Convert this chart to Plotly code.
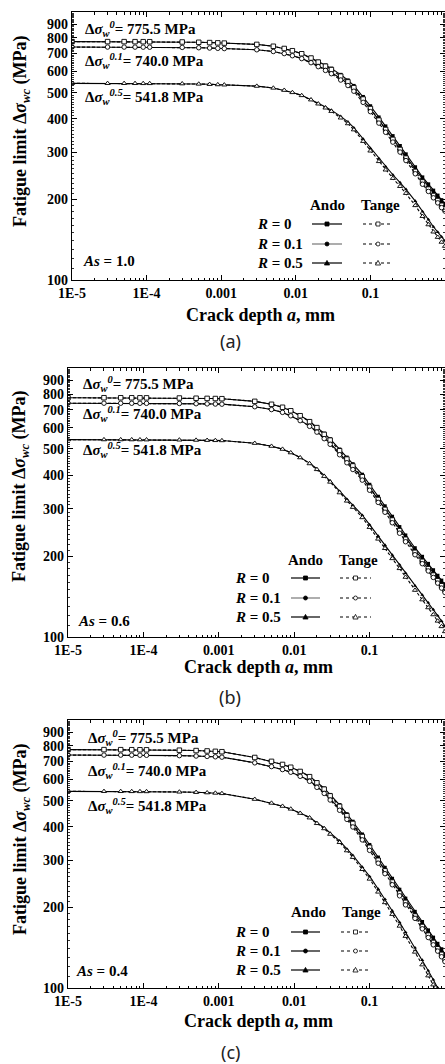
import plotly.graph_objects as go

W, H = 445, 1064
SERIF = "Liberation Serif"

# ---------------- data ----------------
A_MM = [1e-5, 3e-5, 5e-5, 7e-5, 9e-5, 1.1e-4, 3e-4, 5e-4, 7e-4, 9e-4, 1.1e-3,
        3e-3, 5e-3, 7e-3, 9e-3, 0.012, 0.016, 0.02, 0.025, 0.03, 0.04, 0.05,
        0.06, 0.08, 0.1, 0.13, 0.16, 0.2, 0.25, 0.3, 0.4, 0.5, 0.6, 0.7, 0.8,
        0.9, 1.0]

R_LABELS = ["0", "0.1", "0.5"]
DSW_VALUES = ["775.5", "740.0", "541.8"]
AS_VALUES = ["1.0", "0.6", "0.4"]
PANEL_TAGS = ["(a)", "(b)", "(c)"]

X_TICK_VALS = [1e-5, 1e-4, 1e-3, 1e-2, 1e-1, 1]
X_TICK_TEXT = ["1E-5", "1E-4", "0.001", "0.01", "0.1", "1"]
Y_TICK_VALS = [100, 200, 300, 400, 500, 600, 700, 800, 900]
Y_TICK_TEXT = ["100", "200", "300", "400", "500", "600", "700", "800", "900"]

# Panel (a)  As = 1.0
a_r0_ando = [775.5, 775.4, 775.2, 775.0, 774.8, 774.6, 773.0, 771.0, 769.0, 767.0, 765.5, 757.0, 745.0, 731.0, 717.0, 700.0, 676.0, 654.0, 633.0, 616.0, 584.0, 557.0, 531.0, 483.0, 446.0, 405.0, 375.0, 345.0, 317.0, 295.0, 264.0, 242.0, 228.0, 216.0, 207.0, 199.0, 193.0]
a_r0_tange = [775.5, 775.4, 775.2, 775.0, 774.8, 774.6, 773.0, 771.0, 769.0, 767.0, 765.5, 757.0, 745.0, 731.0, 717.0, 698.6, 673.3, 650.1, 627.9, 609.8, 576.4, 548.6, 522.0, 473.3, 436.2, 394.9, 364.5, 334.7, 306.9, 285.0, 254.2, 232.3, 218.4, 206.7, 197.9, 190.0, 184.3]
a_r01_ando = [740.0, 739.9, 739.7, 739.5, 739.3, 739.1, 737.6, 735.7, 733.8, 731.9, 730.4, 723.0, 712.2, 699.6, 686.9, 671.3, 649.6, 629.1, 610.2, 594.4, 564.7, 539.7, 515.1, 469.5, 434.4, 394.9, 366.0, 337.1, 310.0, 288.8, 258.7, 237.2, 223.4, 211.7, 202.9, 195.0, 189.1]
a_r01_tange = [740.0, 739.9, 739.7, 739.5, 739.3, 739.1, 737.6, 735.7, 733.8, 731.9, 730.4, 723.0, 712.2, 699.6, 686.9, 670.0, 647.0, 625.3, 605.3, 588.5, 557.4, 531.6, 506.3, 460.1, 424.8, 385.0, 355.8, 327.0, 300.1, 279.0, 249.1, 227.7, 214.0, 202.6, 194.0, 186.2, 180.6]
a_r05_ando = [541.8, 541.7, 541.6, 541.5, 541.3, 541.2, 540.1, 538.7, 537.3, 535.9, 534.8, 528.9, 520.5, 510.7, 500.9, 489.1, 472.3, 456.9, 442.2, 430.4, 408.0, 389.1, 370.0, 336.0, 310.0, 284.0, 265.0, 247.0, 231.0, 218.0, 197.0, 180.0, 168.0, 158.0, 151.0, 145.0, 140.0]
a_r05_tange = [541.8, 541.7, 541.6, 541.5, 541.3, 541.2, 540.1, 538.7, 537.3, 535.9, 534.8, 528.9, 520.5, 510.7, 500.9, 488.1, 470.4, 454.2, 438.7, 426.1, 402.7, 383.3, 363.7, 329.3, 303.2, 276.9, 257.6, 239.6, 223.6, 210.6, 189.7, 172.8, 160.9, 151.2, 144.4, 138.5, 133.7]

# Panel (b)  As = 0.6
b_r0_ando = [775.5, 775.4, 775.2, 775.0, 774.8, 774.5, 773.5, 772.0, 771.0, 770.0, 769.0, 751.7, 733.0, 714.6, 693.4, 665.9, 634.1, 604.1, 571.1, 544.8, 498.8, 465.6, 439.9, 402.1, 368.8, 332.9, 306.7, 280.6, 256.8, 239.0, 214.3, 199.1, 187.4, 177.5, 169.3, 162.4, 156.3]
b_r0_tange = [775.5, 775.4, 775.2, 775.0, 774.8, 774.5, 773.5, 772.0, 771.0, 770.0, 769.0, 751.7, 733.0, 714.6, 693.4, 664.6, 631.6, 600.5, 566.5, 539.4, 492.3, 458.6, 432.4, 394.1, 360.7, 324.6, 298.1, 272.2, 248.6, 230.9, 206.4, 191.1, 179.5, 169.9, 161.9, 155.1, 149.3]
b_r01_ando = [740.0, 739.9, 739.7, 739.5, 739.3, 739.0, 738.1, 736.6, 735.7, 734.7, 733.8, 717.9, 700.7, 683.9, 664.3, 638.6, 609.4, 581.1, 550.5, 525.7, 482.3, 451.2, 426.7, 390.8, 359.2, 324.6, 299.3, 274.1, 251.1, 234.0, 210.0, 195.1, 183.7, 174.0, 165.9, 159.2, 153.2]
b_r01_tange = [740.0, 739.9, 739.7, 739.5, 739.3, 739.0, 738.1, 736.6, 735.7, 734.7, 733.8, 717.9, 700.7, 683.9, 664.3, 637.3, 607.0, 577.6, 546.1, 520.4, 476.0, 444.4, 419.4, 383.0, 351.3, 316.5, 290.9, 265.9, 243.1, 226.0, 202.2, 187.3, 176.0, 166.5, 158.6, 152.0, 146.3]
b_r05_ando = [541.8, 541.7, 541.6, 541.5, 541.3, 541.1, 540.4, 539.4, 538.7, 538.0, 537.3, 525.2, 512.1, 499.3, 484.4, 465.2, 443.0, 422.1, 399.0, 380.6, 348.5, 325.3, 308.9, 283.7, 261.5, 237.3, 219.6, 201.9, 185.7, 172.8, 155.0, 143.3, 134.2, 126.5, 120.0, 114.6, 109.7]
b_r05_tange = [541.8, 541.7, 541.6, 541.5, 541.3, 541.1, 540.4, 539.4, 538.7, 538.0, 537.3, 525.2, 512.1, 499.3, 484.4, 464.3, 441.2, 419.6, 395.8, 376.8, 344.0, 320.4, 303.6, 278.0, 255.7, 231.4, 213.5, 195.8, 179.8, 166.9, 149.3, 137.6, 128.6, 121.1, 114.7, 109.4, 104.8]

# Panel (c)  As = 0.4
c_r0_ando = [775.5, 775.3, 775.0, 774.7, 774.4, 774.0, 771.5, 769.0, 766.5, 764.0, 761.5, 724.7, 701.0, 682.6, 666.4, 644.0, 617.1, 586.4, 556.5, 526.4, 482.5, 446.1, 418.3, 374.8, 342.5, 307.4, 281.5, 256.2, 233.2, 216.0, 192.8, 176.7, 164.4, 154.5, 146.5, 139.8, 134.0]
c_r0_tange = [775.5, 775.3, 775.0, 774.7, 774.4, 774.0, 771.5, 769.0, 766.5, 764.0, 761.5, 724.7, 701.0, 682.6, 666.4, 642.7, 614.6, 582.9, 552.0, 521.1, 476.2, 439.4, 411.2, 367.3, 335.0, 299.7, 273.6, 248.5, 225.7, 208.7, 185.7, 169.6, 157.5, 147.9, 140.1, 133.5, 128.0]
c_r01_ando = [740.0, 739.8, 739.5, 739.2, 738.9, 738.6, 736.2, 733.8, 731.4, 729.0, 726.6, 692.1, 670.2, 653.2, 638.4, 617.6, 593.0, 564.1, 536.5, 508.0, 466.6, 432.3, 405.8, 364.3, 333.6, 299.7, 274.7, 250.3, 228.1, 211.5, 188.9, 173.2, 161.1, 151.4, 143.6, 137.0, 131.3]
c_r01_tange = [740.0, 739.8, 739.5, 739.2, 738.9, 738.6, 736.2, 733.8, 731.4, 729.0, 726.6, 692.1, 670.2, 653.2, 638.4, 616.4, 590.6, 560.7, 532.2, 502.9, 460.5, 425.8, 398.9, 357.0, 326.3, 292.2, 267.0, 242.8, 220.8, 204.3, 181.9, 166.3, 154.3, 144.9, 137.3, 130.8, 125.4]
c_r05_ando = [541.8, 541.7, 541.5, 541.2, 541.0, 540.8, 539.0, 537.3, 535.5, 533.8, 532.0, 506.3, 489.8, 476.9, 465.6, 449.9, 433.3, 413.8, 396.6, 378.8, 354.0, 330.4, 312.7, 282.8, 260.8, 234.1, 214.4, 194.2, 175.9, 161.5, 141.4, 127.2, 116.0, 107.4, 100.3, 94.2, 88.9]
c_r05_tange = [541.8, 541.7, 541.5, 541.2, 541.0, 540.8, 539.0, 537.3, 535.5, 533.8, 532.0, 506.3, 489.8, 476.9, 465.6, 449.0, 431.6, 411.3, 393.4, 375.0, 349.4, 325.4, 307.4, 277.1, 255.1, 228.2, 208.4, 188.4, 170.3, 156.0, 136.2, 122.1, 111.1, 102.8, 95.9, 90.0, 84.9]

ANDO = [[a_r0_ando, a_r01_ando, a_r05_ando],
        [b_r0_ando, b_r01_ando, b_r05_ando],
        [c_r0_ando, c_r01_ando, c_r05_ando]]
TANGE = [[a_r0_tange, a_r01_tange, a_r05_tange],
         [b_r0_tange, b_r01_tange, b_r05_tange],
         [c_r0_tange, c_r01_tange, c_r05_tange]]

# ---------------- geometry (pixels) ----------------
GEOM = [
    dict(left=72, top=12, bottom=280, dsw_x=83, dsw_y=[29, 61, 97], as_x=81, as_y=261,
         head_y=205, rows_y=[224, 244, 263], lab_x=255, ando=(312, 342), tange=(363, 393),
         head_ando=327, head_tange=380, xt_x=260, xt_y=315, yt_y=132, tag_y=341),
    dict(left=68, top=368, bottom=637, dsw_x=81, dsw_y=[384, 414, 450], as_x=76, as_y=621,
         head_y=560, rows_y=[578, 598, 617], lab_x=233, ando=(291, 320), tange=(340, 371),
         head_ando=305, head_tange=358, xt_x=258, xt_y=667, yt_y=487, tag_y=697),
    dict(left=68, top=720, bottom=988, dsw_x=86, dsw_y=[738, 771, 806], as_x=74, as_y=971,
         head_y=912, rows_y=[932, 951, 970], lab_x=233, ando=(291, 320), tange=(341, 370),
         head_ando=308, head_tange=361, xt_x=258, xt_y=1021, yt_y=840, tag_y=1052),
]

SYMBOLS = ["square", "circle", "triangle-up"]


def fx(p):
    return p / W


def fy(p):
    return 1 - p / H


fig = go.Figure()

x_minor = [k * 10.0 ** e for e in range(-5, 0) for k in range(2, 10)]
y_minor = [v for v in range(110, 1000, 10) if v % 100 != 0]

annotations = []
shapes = []

for i, g in enumerate(GEOM):
    s = "" if i == 0 else str(i + 1)
    xa, ya = "x" + s, "y" + s
    axis_common = dict(
        ticks="inside", tickcolor="black", tickwidth=1, ticklen=5,
        showline=True, linecolor="black", linewidth=1.2, mirror="ticks",
        showgrid=False, zeroline=False, automargin=False,
        tickfont=dict(family=SERIF, size=14, color="black", weight="bold"),
    )
    fig.layout["xaxis" + s] = dict(
        type="log", range=[-5, 0], domain=[fx(g["left"]), 1], anchor=ya,
        tickmode="array", tickvals=X_TICK_VALS, ticktext=X_TICK_TEXT,
        minor=dict(tickvals=x_minor, ticks="inside", ticklen=2.5, tickcolor="black",
                   tickwidth=1, showgrid=False),
        **axis_common)
    fig.layout["yaxis" + s] = dict(
        type="log", range=[2, 3], domain=[fy(g["bottom"]), fy(g["top"])], anchor=xa,
        tickmode="array", tickvals=Y_TICK_VALS, ticktext=Y_TICK_TEXT,
        minor=dict(tickvals=y_minor, ticks="inside", ticklen=2, tickcolor="black",
                   tickwidth=0.8, showgrid=False),
        **axis_common)

    # curves: Ando (solid, filled markers) then Tange (dashed, hollow markers)
    for ri in range(3):
        fig.add_trace(go.Scatter(
            x=A_MM, y=ANDO[i][ri], xaxis=xa, yaxis=ya, mode="lines+markers",
            line=dict(color="black", width=1.1),
            marker=dict(symbol=SYMBOLS[ri], size=3.5, color="black"),
            showlegend=False, hoverinfo="skip"))
    for ri in range(3):
        fig.add_trace(go.Scatter(
            x=A_MM, y=TANGE[i][ri], xaxis=xa, yaxis=ya, mode="lines+markers",
            line=dict(color="black", width=1.1, dash="3px,2px"),
            marker=dict(symbol=SYMBOLS[ri], size=4.5, color="white",
                        line=dict(color="black", width=0.9)),
            showlegend=False, hoverinfo="skip"))

    def ann(text, x, y, size=15, xanchor="left", angle=0, family=SERIF, color="black"):
        annotations.append(dict(
            text=text, x=fx(x), y=fy(y), xref="paper", yref="paper",
            xanchor=xanchor, yanchor="middle", showarrow=False, textangle=angle,
            font=dict(family=family, size=size, color=color)))

    # reference fatigue limits
    for ri in range(3):
        ann("<b>Δ<i>σ</i><sub><i>w</i></sub><sup><i>%s</i></sup>= %s MPa</b>"
            % (R_LABELS[ri], DSW_VALUES[ri]), g["dsw_x"], g["dsw_y"][ri])
    ann("<b><i>As</i> = %s</b>" % AS_VALUES[i], g["as_x"], g["as_y"])

    # legend block
    ann("<b>Ando</b>", g["head_ando"], g["head_y"], xanchor="center")
    ann("<b>Tange</b>", g["head_tange"], g["head_y"], xanchor="center")
    for ri in range(3):
        yy = g["rows_y"][ri]
        ann("<b><i>R</i> = %s</b>" % R_LABELS[ri], g["lab_x"], yy)
        ando_col = "#777777" if (ri == 1 and i < 2) else "black"
        for (x0, x1), dash, filled, col in ((g["ando"], "solid", True, ando_col),
                                             (g["tange"], "3px,3px", False, "black")):
            shapes.append(dict(type="line", xref="paper", yref="paper",
                               x0=fx(x0), x1=fx(x1), y0=fy(yy), y1=fy(yy),
                               line=dict(color=col, width=1.2, dash=dash)))
            cx = (x0 + x1) / 2
            fill = "black" if filled else "white"
            r = 2.0
            if ri == 0:
                shapes.append(dict(type="rect", xref="paper", yref="paper",
                                   x0=fx(cx - r), x1=fx(cx + r), y0=fy(yy + r), y1=fy(yy - r),
                                   fillcolor=fill, line=dict(color="black", width=0.8)))
            elif ri == 1:
                shapes.append(dict(type="circle", xref="paper", yref="paper",
                                   x0=fx(cx - r), x1=fx(cx + r), y0=fy(yy + r), y1=fy(yy - r),
                                   fillcolor=fill, line=dict(color="black", width=0.8)))
            else:
                path = "M %.5f,%.5f L %.5f,%.5f L %.5f,%.5f Z" % (
                    fx(cx - 2.6), fy(yy + 2.0), fx(cx + 2.6), fy(yy + 2.0), fx(cx), fy(yy - 2.6))
                shapes.append(dict(type="path", xref="paper", yref="paper", path=path,
                                   fillcolor=fill, line=dict(color="black", width=0.8)))

    # axis titles and panel tag
    ann("<b>Crack depth <i>a</i>, mm</b>", g["xt_x"], g["xt_y"], size=18, xanchor="center")
    ann("<b>Fatigue limit Δ<i>σ</i><sub><i>wc</i></sub> (MPa)</b>", 21, g["yt_y"], size=18,
        xanchor="center", angle=-90)
    ann(PANEL_TAGS[i], 230, g["tag_y"], size=18, xanchor="center", family="Noto Sans",
        color="#222222")

fig.update_layout(
    width=W, height=H, margin=dict(l=0, r=0, t=0, b=0),
    paper_bgcolor="white", plot_bgcolor="white",
    showlegend=False, annotations=annotations, shapes=shapes,
)

fig.write_html(
    "out.html",
    config={"displayModeBar": False, "staticPlot": True},
    post_script="document.body.style.margin='0';document.body.style.overflow='hidden';"
                "document.documentElement.style.overflow='hidden';",
)
